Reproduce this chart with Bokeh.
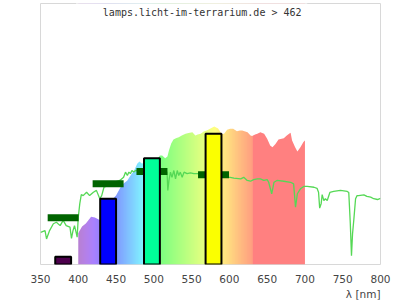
import numpy as np
from bokeh.plotting import figure
from bokeh.models import Range1d, Label, FixedTicker, Title
from bokeh.embed import file_html
from bokeh.resources import INLINE

# ---- data ----
title_text = "lamps.licht-im-terrarium.de > 462"
x_label = "λ [nm]"
x_ticks = [350, 400, 450, 500, 550, 600, 650, 700, 750, 800]

# lamp spectrum outline (nm, relative intensity 0..100)
spec_nm = [400, 405, 410, 417, 422, 427, 430, 435, 440, 445, 450, 456, 460, 465, 470, 474,
           478, 481, 484, 490, 495, 500, 505, 508, 511, 515, 518, 520, 523, 526, 530, 533,
           537, 542, 546, 551, 555, 558, 562, 566, 570, 575, 580, 585, 590, 593, 597, 601,
           605, 610, 614, 617, 620, 624, 628, 630, 634, 637, 641, 646, 650, 654, 657, 661,
           665, 672, 676, 679, 681, 683, 687, 690, 694, 698, 700]
spec_val = [12.1, 14.6, 15.7, 18.3, 18.0, 17.2, 16.9, 20.0, 22.6, 24.9, 26.4, 29.6, 31.0, 32.2, 34.5, 36.0,
            38.6, 39.5, 38.7, 39.0, 39.3, 40.0, 40.6, 41.8, 41.8, 40.7, 41.4, 43.7, 46.4, 47.9, 48.5, 48.8,
            49.4, 50.1, 50.4, 50.7, 49.4, 49.8, 50.1, 51.0, 51.3, 52.1, 52.9, 52.1, 50.0, 50.1, 51.6, 52.0,
            52.0, 51.1, 51.3, 51.3, 51.1, 50.7, 49.4, 49.2, 49.8, 50.1, 50.7, 50.1, 48.2, 45.6, 44.9, 46.2,
            47.9, 48.4, 49.4, 50.1, 50.5, 47.5, 44.9, 43.3, 44.9, 46.9, 47.5]

# reference (daylight) curve
ref_nm = [350, 351, 356, 358, 362, 367, 371, 376, 380, 384, 389, 391, 393, 395, 397.5, 398.5,
          400, 401, 402, 404, 406.5, 411, 415, 420, 424, 428.5, 431, 434, 440, 445, 450, 455,
          460, 462.5, 465, 467, 469, 471, 473.5, 476, 485, 495, 505, 512, 517.5, 518.5, 520, 522,
          524, 526.5, 528.7, 531, 533, 535, 537.5, 540, 544, 548.5, 553, 557.5, 565, 575, 590, 601,
          606, 615, 619, 623.6, 628, 632, 637, 641, 645.6, 650, 652, 656, 659, 663, 672, 681,
          685, 687.5, 690, 694, 698.5, 703, 712, 716, 718, 719.5, 721.5, 722.8, 725, 727, 729.5, 733,
          738, 747, 756, 758, 759, 760, 761.6, 763, 764.7, 767, 769, 771, 778, 782, 787, 791,
          796, 800]
ref_val = [12.3, 12.4, 13.0, 9.8, 13.0, 15.6, 16.2, 14.9, 16.9, 14.9, 14.3, 10.0, 13.0, 14.9, 11.8, 10.5,
           18.1, 20.7, 23.3, 26.8, 26.4, 27.7, 26.4, 27.7, 28.4, 25.2, 26.4, 29.6, 30.3, 31.0, 31.8, 32.2,
           33.4, 35.4, 34.1, 35.4, 34.8, 36.0, 35.4, 36.0, 36.0, 36.8, 36.4, 36.0, 35.4, 28.4, 32.2, 35.4,
           33.4, 36.0, 32.8, 36.0, 34.1, 35.4, 33.4, 35.4, 34.8, 35.1, 34.8, 34.8, 34.5, 34.1, 33.4, 33.4,
           33.1, 32.8, 33.4, 32.2, 31.9, 32.5, 32.8, 32.8, 32.2, 32.5, 31.5, 27.1, 31.5, 32.2, 31.9, 31.5,
           30.9, 22.0, 27.1, 29.0, 29.9, 29.9, 29.6, 29.2, 27.7, 21.6, 23.4, 26.8, 24.5, 25.2, 24.5, 27.6,
           28.0, 28.4, 28.0, 27.6, 21.8, 15.9, 3.4, 11.8, 17.2, 25.2, 26.4, 26.4, 26.7, 26.1, 25.8, 25.2,
           24.9, 25.3]

# LED peaks
peak_nm = [380, 439.5, 497.5, 579]
peak_val = [3.0, 25.2, 40.7, 50.1]
band_val = [17.9, 30.9, 35.6, 34.4]
bar_colors = ["#4d004d", "#0000ff", "#00ff99", "#fbff00"]


def wl_rgb(w):
    if w < 440:
        r, g, b = -(w - 440) / 60.0, 0.0, 1.0
    elif w < 490:
        r, g, b = 0.0, (w - 440) / 50.0, 1.0
    elif w < 510:
        r, g, b = 0.0, 1.0, -(w - 510) / 20.0
    elif w < 580:
        r, g, b = (w - 510) / 70.0, 1.0, 0.0
    elif w < 630:
        r, g, b = 1.0, -(w - 645) / 65.0, 0.0
    else:
        r, g, b = 1.0, 0.0, 0.0
    f = 0.3 + 0.7 * (w - 380) / 40.0 if w < 420 else 1.0
    return (r * f, g * f, b * f)


p = figure(width=400, height=300, x_range=Range1d(350, 800), y_range=Range1d(0, 100),
           output_backend="svg", toolbar_location=None,
           min_border_left=40, min_border_right=20, min_border_top=3, min_border_bottom=36)
p.title.visible = False
p.yaxis.visible = False
p.xgrid.visible = False
p.ygrid.visible = False
p.outline_line_color = "#d8d8d8"
p.outline_line_width = 1
p.background_fill_color = "white"
p.border_fill_color = "white"

ax = p.xaxis[0]
ax.ticker = FixedTicker(ticks=x_ticks)
ax.axis_line_color = None
ax.major_tick_line_color = None
ax.minor_tick_line_color = None
ax.major_tick_out = 0
ax.major_tick_in = 0
ax.major_label_standoff = 10
ax.major_label_text_font = "DejaVu Sans"
ax.major_label_text_font_size = "10.5px"
ax.major_label_text_color = "#444444"

# coloured spectrum background (gradient image), masked above the outline
lo, hi = spec_nm[0], spec_nm[-1]
n = int(hi - lo)
img = np.zeros((1, n), dtype=np.uint32)
view = img.view(dtype=np.uint8).reshape((1, n, 4))
for i in range(n):
    r, g, b = wl_rgb(lo + i + 0.5)
    view[0, i, 0] = int(round((0.5 * r + 0.5) * 255))
    view[0, i, 1] = int(round((0.5 * g + 0.5) * 255))
    view[0, i, 2] = int(round((0.5 * b + 0.5) * 255))
    view[0, i, 3] = 255
p.image_rgba(image=[img], x=lo, y=0, dw=hi - lo, dh=100)
mask_x = [lo - 3] + spec_nm + [hi + 3]
mask_y = [spec_val[0]] + spec_val + [spec_val[-1]]
p.varea(x=mask_x, y1=mask_y, y2=[101] * len(mask_x), fill_color="white")

# reference curve
p.line(ref_nm, ref_val, line_color="#55d855", line_width=1.3)

# dark green band markers
p.segment(x0=[c - 20.5 for c in peak_nm], x1=[c + 20.5 for c in peak_nm],
          y0=band_val, y1=band_val, line_color="#006400", line_width=7, line_cap="butt")

# LED peak bars
p.vbar(x=peak_nm, width=21, bottom=0, top=peak_val, fill_color=bar_colors,
       line_color="black", line_width=2)

p.add_layout(Label(x=564, y=96.5, text=title_text, text_align="center", text_baseline="middle",
                   text_font="DejaVu Sans Mono", text_font_size="10px", text_color="#333333"))
p.add_layout(Title(text=x_label, align="right", text_font="DejaVu Sans", text_font_size="10.5px",
                   text_color="#444444", text_font_style="normal", standoff=0, offset=0), "below")

open("out.html", "w").write(file_html(p, INLINE))
